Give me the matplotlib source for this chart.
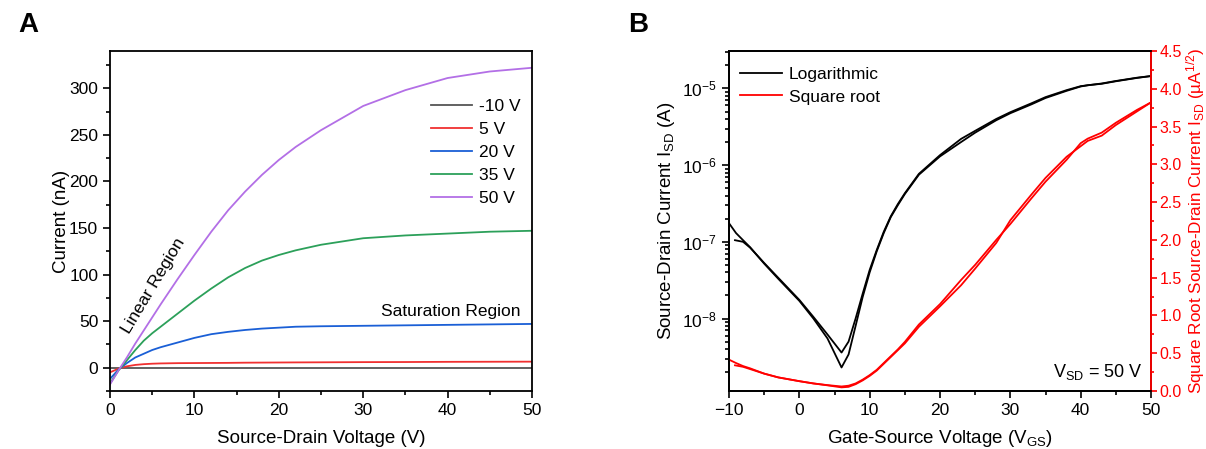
import matplotlib.pyplot as plt
import numpy as np

plt.rcParams['font.family'] = ['Liberation Sans', 'DejaVu Sans']
plt.rcParams['mathtext.fontset'] = 'custom'
plt.rcParams['mathtext.rm'] = 'Liberation Sans'
plt.rcParams['mathtext.it'] = 'Liberation Sans:italic'
plt.rcParams['axes.linewidth'] = 1.3
plt.rcParams['axes.unicode_minus'] = True

# ---- panel A: output curves ----
vsd = [0, 1, 2, 3, 4, 5, 6, 8, 10, 12, 14, 16, 18, 20, 22, 25, 30, 35, 40, 45, 50]
i_m10 = [0, 0, 0, 0, 0, 0, 0, 0, 0, 0, 0, 0, 0, 0, 0, 0, 0, 0, 0, 0, 0]
i_5 = [-5, -1, 1.5, 3, 3.8, 4.3, 4.6, 4.9, 5, 5.1, 5.2, 5.4, 5.5, 5.6, 5.7, 5.8, 6, 6.1, 6.3, 6.4, 6.5]
i_20 = [-12, -2, 5, 11, 15, 19, 22, 27, 32, 36, 38.5, 40.5, 42, 43, 44, 44.5, 45, 45.5, 46, 46.5, 47]
i_35 = [-17, -3, 8, 19, 29, 37, 44, 58, 72, 85, 97, 107, 115, 121, 126, 132, 139, 142, 144, 146, 147]
i_50 = [-18, -3, 11, 26, 40, 54, 68, 95, 121, 146, 169, 189, 207, 223, 237, 255, 281, 298, 311, 318, 322]
vg_labels = ['-10 V', '5 V', '20 V', '35 V', '50 V']
colors_a = ['#555555', '#f03030', '#1a5fd6', '#2ca05a', '#b36fe6']

# ---- panel B: transfer curve, two sweeps ----
vgs1 = [-10, -9, -8, -7, -5, -3, 0, 2, 4, 6, 7, 8, 9, 10, 11, 12, 13, 14, 15, 17, 20,
        23, 25, 28, 30, 33, 35, 38, 40, 41, 43, 45, 48, 50]
isd1 = [1.75e-7, 1.3e-7, 1.05e-7, 8.5e-8, 5.2e-8, 3.3e-8, 1.7e-8, 1.0e-8, 5.5e-9, 2.3e-9,
        3.4e-9, 8e-9, 1.9e-8, 4.0e-8, 7.5e-8, 1.3e-7, 2.1e-7, 3.0e-7, 4.2e-7, 7.5e-7, 1.3e-6,
        2.0e-6, 2.65e-6, 3.85e-6, 4.75e-6, 6.2e-6, 7.5e-6, 9.3e-6, 1.06e-5, 1.1e-5, 1.15e-5,
        1.24e-5, 1.37e-5, 1.45e-5]
vgs2 = [-9.15, -8, -7, -5, -3, 0, 2, 4, 6, 7, 8, 9, 10, 11, 12, 13, 14, 15, 17, 20,
        23, 25, 28, 30, 33, 35, 38, 40, 41, 43, 45, 48, 50]
isd2 = [1.05e-7, 1.0e-7, 8.4e-8, 5.3e-8, 3.4e-8, 1.75e-8, 1.05e-8, 6.2e-9, 3.6e-9,
        5.0e-9, 1.0e-8, 2.1e-8, 4.3e-8, 7.8e-8, 1.35e-7, 2.15e-7, 3.1e-7, 4.3e-7, 7.7e-7, 1.35e-6,
        2.2e-6, 2.8e-6, 4.0e-6, 4.9e-6, 6.4e-6, 7.7e-6, 9.5e-6, 1.07e-5, 1.1e-5, 1.16e-5,
        1.25e-5, 1.38e-5, 1.45e-5]
sqrt1 = [0.415, 0.37, 0.33, 0.30, 0.23, 0.18, 0.13, 0.10, 0.075, 0.048, 0.055, 0.09, 0.14,
         0.20, 0.27, 0.36, 0.45, 0.54, 0.63, 0.85, 1.12, 1.40, 1.62, 1.96, 2.26, 2.60, 2.82,
         3.10, 3.24, 3.31, 3.38, 3.52, 3.70, 3.82]
sqrt2 = [0.34, 0.32, 0.29, 0.23, 0.18, 0.13, 0.10, 0.078, 0.06, 0.07, 0.10, 0.15,
         0.21, 0.28, 0.37, 0.46, 0.55, 0.65, 0.88, 1.15, 1.47, 1.67, 2.0, 2.21, 2.55, 2.77,
         3.06, 3.28, 3.34, 3.42, 3.55, 3.72, 3.82]

fig = plt.figure(figsize=(12.06, 4.49), dpi=100)
axA = fig.add_axes([110/1206, 58/449, 422/1206, 340/449])
axB = fig.add_axes([729/1206, 58/449, 422/1206, 340/449])

for ys, lab, c in zip([i_m10, i_5, i_20, i_35, i_50], vg_labels, colors_a):
    axA.plot(vsd, ys, color=c, lw=1.3, label=lab)
axA.set_xlim(0, 50)
axA.set_ylim(-25, 340)
axA.set_xticks([0, 10, 20, 30, 40, 50])
axA.set_xticks(np.arange(0, 51, 5), minor=True)
axA.set_yticks([0, 50, 100, 150, 200, 250, 300])
axA.set_yticks(np.arange(-25, 340, 25), minor=True)
axA.tick_params(which='both', direction='out', labelsize=12.5, width=1.2)
axA.tick_params(which='major', length=5)
axA.tick_params(which='minor', length=3)
axA.set_xlabel('Source-Drain Voltage (V)', fontsize=13.5, labelpad=9)
axA.set_ylabel('Current (nA)', fontsize=13.5, labelpad=-1)
axA.legend(loc='upper right', bbox_to_anchor=(0.99, 0.88), frameon=False, fontsize=12.5,
           handlelength=2.4, labelspacing=0.45, handletextpad=0.4, borderaxespad=0)
axA.text(5.1, 88, 'Linear Region', rotation=59, ha='center', va='center', fontsize=12.5)
axA.text(40.4, 60, 'Saturation Region', ha='center', va='center', fontsize=12.5)
fig.text(18/1206, 1 - 25/449, 'A', fontsize=20, fontweight='bold', va='center')

axB.plot(vgs1, isd1, color='black', lw=1.3, label='Logarithmic')
axB.plot(vgs2, isd2, color='black', lw=1.3)
axB.set_yscale('log')
axB.set_xlim(-10, 50)
axB.set_ylim(10**-8.945, 10**-4.512)
axB.set_xticks([-10, 0, 10, 20, 30, 40, 50])
axB.set_xticks(np.arange(-10, 51, 5), minor=True)
axB.tick_params(which='both', direction='out', labelsize=12.5, width=1.2)
axB.tick_params(which='major', length=5)
axB.tick_params(which='minor', length=3)
axB.set_xlabel('Gate-Source Voltage (V$_{\\mathregular{GS}}$)', fontsize=13.5, labelpad=7)
axB.set_ylabel('Source-Drain Current I$_{\\mathregular{SD}}$ (A)', fontsize=13.5)

ax2 = axB.twinx()
ax2.plot(vgs1, sqrt1, color='red', lw=1.3, label='Square root')
ax2.plot(vgs2, sqrt2, color='red', lw=1.3)
ax2.set_ylim(0, 4.5)
ax2.set_yticks(np.arange(0, 4.51, 0.5))
ax2.set_yticks(np.arange(0, 4.51, 0.25), minor=True)
ax2.yaxis.set_major_formatter(plt.FormatStrFormatter('%.1f'))
ax2.tick_params(which='both', direction='out', labelsize=11.5, width=1.2, colors='red', pad=2)
ax2.tick_params(which='major', length=4)
ax2.tick_params(which='minor', length=2.5)
ax2.spines['right'].set_color('red')
ax2.set_ylabel('Square Root Source-Drain Current I$_{\\mathregular{SD}}$ (µA$^{\\mathregular{1/2}}$)',
               fontsize=12.3, color='red', labelpad=2)
ax2.text(42.5, 0.25, 'V$_{\\mathregular{SD}}$ = 50 V', ha='center', va='center', fontsize=13)

h1, l1 = axB.get_legend_handles_labels()
h2, l2 = ax2.get_legend_handles_labels()
ax2.legend(h1 + h2, l1 + l2, loc='upper left', bbox_to_anchor=(0.01, 0.975), frameon=False,
           fontsize=12.5, handlelength=2.4, labelspacing=0.45, handletextpad=0.4, borderaxespad=0)
fig.text(628/1206, 1 - 25/449, 'B', fontsize=20, fontweight='bold', va='center')

fig.savefig('out.png', dpi=100)
